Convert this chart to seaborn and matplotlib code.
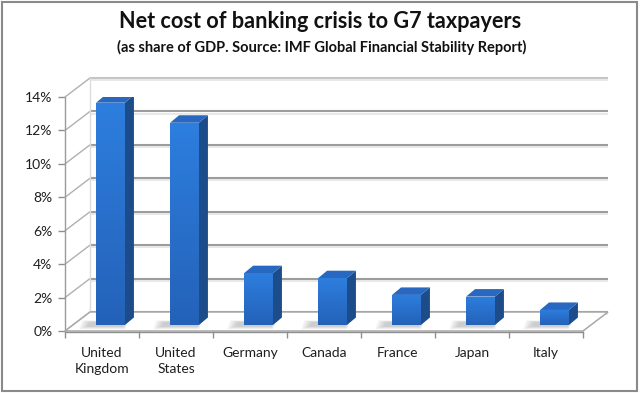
import numpy as np
import pandas as pd
import matplotlib
matplotlib.use("Agg")
import matplotlib.pyplot as plt
import seaborn as sns
from matplotlib.patches import Polygon, Rectangle
from matplotlib.colors import LinearSegmentedColormap

# ---- data ----
countries = ["United\nKingdom", "United\nStates", "Germany", "Canada", "France", "Japan", "Italy"]
cost_pct = [13.3, 12.1, 3.1, 2.8, 1.8, 1.7, 0.9]
y_ticks = [0, 2, 4, 6, 8, 10, 12, 14]
y_tick_labels = [f"{t}%" for t in y_ticks]
title = "Net cost of banking crisis to G7 taxpayers"
subtitle = "(as share of GDP. Source: IMF Global Financial Stability Report)"

df = pd.DataFrame({"country": countries, "cost": cost_pct})

sns.set_theme(style="white")
plt.rcParams["font.family"] = ["Lato", "DejaVu Sans"]

FW, FH = 640, 393
fig = plt.figure(figsize=(FW / 100, FH / 100), dpi=100)
fig.patch.set_facecolor("white")

# front plane of the 3-D box (pixels)
AX_L, AX_R, AX_B, AX_T = 65, 583, 331, 97
ax = fig.add_axes([AX_L / FW, (FH - AX_B) / FH, (AX_R - AX_L) / FW, (AX_B - AX_T) / FH])
ax.patch.set_alpha(0)
n = len(countries)
ymax = y_ticks[-1]

sns.barplot(data=df, x="country", y="cost", color="#2a74d2", saturation=1,
            width=0.39, ax=ax, zorder=5)

ax.set_xlim(-0.5, n - 0.5)
ax.set_ylim(0, ymax)
for s in ax.spines.values():
    s.set_visible(False)

# pixel -> data conversions
upx = n / (AX_R - AX_L)
upy = ymax / (AX_B - AX_T)

# depth offsets (pixels)
FLOOR_DX, FLOOR_DY = 25, 19
BAR_OX, BAR_OY = 8.5, 6
BAR_DX, BAR_DY = 9, 7.5

fdx, fdy = FLOOR_DX * upx, FLOOR_DY * upy
x0, x1 = -0.5, n - 0.5

grid_col = "#9c9c9c"
# back wall gridlines and left wall diagonals
for t in y_ticks:
    col = "#c6c6c6" if t == ymax else grid_col
    ax.plot([x0 + fdx, x1 + fdx], [t + fdy, t + fdy], color=col, lw=1.5,
            zorder=1, solid_capstyle="butt", clip_on=False)
    ax.plot([x0 + fdx, x1 + fdx], [t + fdy - 2.2 * upy, t + fdy - 2.2 * upy], color="#e4e4e4",
            lw=1.2, zorder=1, solid_capstyle="butt", clip_on=False)
    ax.plot([x0, x0 + fdx], [t, t + fdy], color="#b0b0b0", lw=1.0,
            zorder=1, clip_on=False)
# left wall edges
ax.plot([x0, x0], [0, ymax], color="#9a9a9a", lw=1.0, zorder=2, clip_on=False)
ax.plot([x0 + fdx, x0 + fdx], [fdy, ymax + fdy], color="#dcdcdc", lw=1.0, zorder=1, clip_on=False)

# floor
floor = Polygon([[x0, 0], [x1, 0], [x1 + fdx, fdy], [x0 + fdx, fdy]], closed=True,
                facecolor="white", edgecolor="#a8a8a8", lw=1.1, zorder=2, clip_on=False)
ax.add_patch(floor)
ax.plot([x0, x1], [-0.05, -0.05], color="#8f8f8f", lw=1.0, zorder=3, clip_on=False)

# ticks
ax.set_yticks(y_ticks)
ax.set_yticklabels(y_tick_labels)
ax.set_xticks(range(n))
ax.set_xticklabels(countries, linespacing=1.4)
ax.set_xticks(np.arange(n + 1) - 0.5, minor=True)
ax.tick_params(axis="y", which="major", left=True, length=5, width=1.0, color="#8f8f8f",
               pad=4, labelsize=10, labelcolor="#1e1e1e")
ax.tick_params(axis="x", which="major", bottom=False, length=0, pad=11.5,
               labelsize=10, labelcolor="#1e1e1e")
ax.tick_params(axis="x", which="minor", bottom=True, length=5, width=1.0, color="#8f8f8f")
ax.set_xlabel("")
ax.set_ylabel("")

# gradient colormap for bar front faces
front_cmap = LinearSegmentedColormap.from_list("front", ["#2462b9", "#2d7ede"])
grad = np.linspace(0, 1, 64).reshape(-1, 1)

ox, oy = BAR_OX * upx, BAR_OY * upy
bdx, bdy = BAR_DX * upx, BAR_DY * upy

for p in list(ax.patches):
    if p is floor:
        continue
    bx = p.get_x() + ox
    bw = p.get_width()
    h = p.get_height()
    p.set_x(bx)
    p.set_y(oy)
    p.set_edgecolor("none")
    p.set_zorder(6)

    # soft shadow on the floor, to the left of the bar foot
    for k in range(6):
        grow = (5 - k) * 1.6
        sx0 = bx - (9 + grow) * upx
        sx1 = bx + bw - (2 - grow * 0.3) * upx
        sy0 = oy - (1.5 + grow * 0.35) * upy
        sy1 = oy + (3 + grow * 0.2) * upy
        sh = Polygon([[sx0, sy0], [sx1, sy0], [sx1 + 3 * upx, sy1], [sx0 + 3 * upx, sy1]],
                     closed=True, facecolor="#505050", edgecolor="none", alpha=0.05, zorder=4)
        ax.add_patch(sh)

    # gradient on the front face
    im = ax.imshow(grad, extent=[bx, bx + bw, oy, oy + h], origin="lower",
                   cmap=front_cmap, aspect="auto", zorder=6.5, interpolation="bilinear")
    im.set_clip_path(p)

    # side face
    side = Polygon([[bx + bw, oy], [bx + bw + bdx, oy + bdy],
                    [bx + bw + bdx, oy + h + bdy], [bx + bw, oy + h]],
                   closed=True, facecolor="#1c4c8a", edgecolor="none", zorder=6)
    ax.add_patch(side)
    # top face
    top = Polygon([[bx, oy + h], [bx + bw, oy + h], [bx + bw + bdx, oy + h + bdy],
                   [bx + bdx, oy + h + bdy]],
                  closed=True, facecolor="#2868c0", edgecolor="none", zorder=6)
    ax.add_patch(top)

ax.set_xlim(-0.5, n - 0.5)
ax.set_ylim(0, ymax)

# titles
fig.text(0.5, 1 - 22 / FH, title, ha="center", va="center", fontsize=15.6,
         fontweight="bold", color="#111111")
fig.text(0.503, 1 - 47 / FH, subtitle, ha="center", va="center", fontsize=10.5,
         fontweight="bold", color="#111111")

# outer frame
fig.patches.append(Rectangle((2 / FW, 2 / FH), 635 / FW, 389 / FH, transform=fig.transFigure,
                             fill=False, edgecolor="#8a8a8a", lw=1.5))

fig.savefig("out.png", dpi=100, facecolor="white")
